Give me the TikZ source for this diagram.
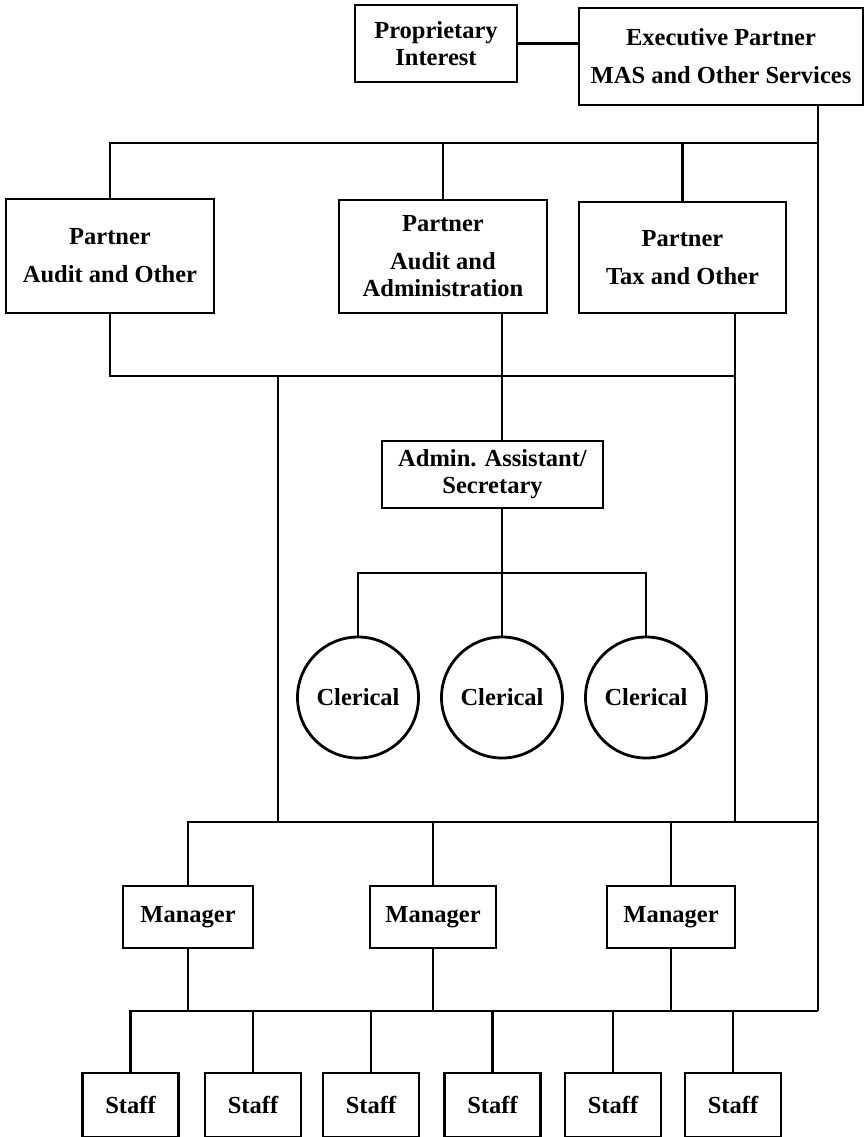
\documentclass[tikz,border=0pt]{standalone}
\usepackage{fontspec}
\setmainfont{Liberation Serif}
\begin{document}
\begin{tikzpicture}[x=1pt,y=-1pt,line width=2.8pt,
        box node/.style={draw,rectangle,inner sep=0pt,align=center,
            font=\fontsize{24.5}{27}\selectfont\bfseries},
        clerk node/.style={draw,circle,inner sep=0pt,minimum size=121pt,
            font=\fontsize{24.5}{27}\selectfont\bfseries}]

        \useasboundingbox (0,0) rectangle (865,1137);
        \clip (0,0) rectangle (865,1137);

        % Define vertices
        \node[box node,minimum width=162pt,minimum height=77pt] (prop) at (436,43.5) {Proprietary\\Interest};
        \node[box node,minimum width=284pt,minimum height=97pt] (exec) at (721,56.5) {Executive Partner\\[11pt]MAS and Other Services};
        \node[box node,minimum width=208pt,minimum height=114pt] (pao) at (110,256) {Partner\\[11pt]Audit and Other};
        \node[box node,minimum width=208pt,minimum height=113pt] (paa) at (443,256.5) {Partner\\[11pt]Audit and\\Administration};
        \node[box node,minimum width=207pt,minimum height=111pt] (pto) at (682.5,257.5) {Partner\\[11pt]Tax and Other};
        \node[box node,minimum width=221pt,minimum height=67pt] (admin) at (492.5,474.5) {Admin. Assistant/\\Secretary};
        \node[clerk node] (cl1) at (358,697.5) {Clerical};
        \node[clerk node] (cl2) at (502,697.5) {Clerical};
        \node[clerk node] (cl3) at (646,697.5) {Clerical};
        \node[box node,minimum width=130pt,minimum height=62pt] (m1) at (188,917) {Manager};
        \node[box node,minimum width=126pt,minimum height=62pt] (m2) at (433,917) {Manager};
        \node[box node,minimum width=128pt,minimum height=62pt] (m3) at (671,917) {Manager};
        \foreach \x [count=\i] in {130.5,253,371,492.5,613,733}
            \node[box node,minimum width=96pt,minimum height=64pt] (s\i) at (\x,1105) {Staff};

        % Bus points
        \coordinate (tbus) at (818,143);
        \coordinate (pbus) at (735,376);
        \coordinate (trunk) at (278,376);
        \coordinate (mid) at (502,376);
        \coordinate (clbus) at (502,573);
        \coordinate (mbus) at (818,822);
        \coordinate (sbus) at (818,1011);

        % Draw edges
        \draw (prop.east) -- (prop.east -| exec.west);
        \draw (exec.south -| sbus) -- (sbus);
        \draw (pao.north) |- (tbus);
        \draw (paa.north) -- (paa.north |- tbus);
        \draw (pto.north) -- (pto.north |- tbus);
        \draw (pao.south) |- (pbus);
        \draw (pto.south -| pbus) -- (pbus |- mbus);
        \draw (trunk) -- (trunk |- mbus);
        \draw (paa.south -| mid) -- (admin.north -| mid);
        \draw (admin.south -| mid) -- (cl2.north);
        \draw (cl1.north) |- (clbus) -| (cl3.north);
        \draw (m1.north) |- (mbus);
        \draw (m2.north) -- (m2.north |- mbus);
        \draw (m3.north) -- (m3.north |- mbus);
        \draw (m1.south) -- (m1.south |- sbus);
        \draw (m2.south) -- (m2.south |- sbus);
        \draw (m3.south) -- (m3.south |- sbus);
        \draw (s1.north) |- (sbus);
        \foreach \i in {2,...,6}
            \draw (s\i.north) -- (s\i.north |- sbus);

        \end{tikzpicture}
\end{document}
